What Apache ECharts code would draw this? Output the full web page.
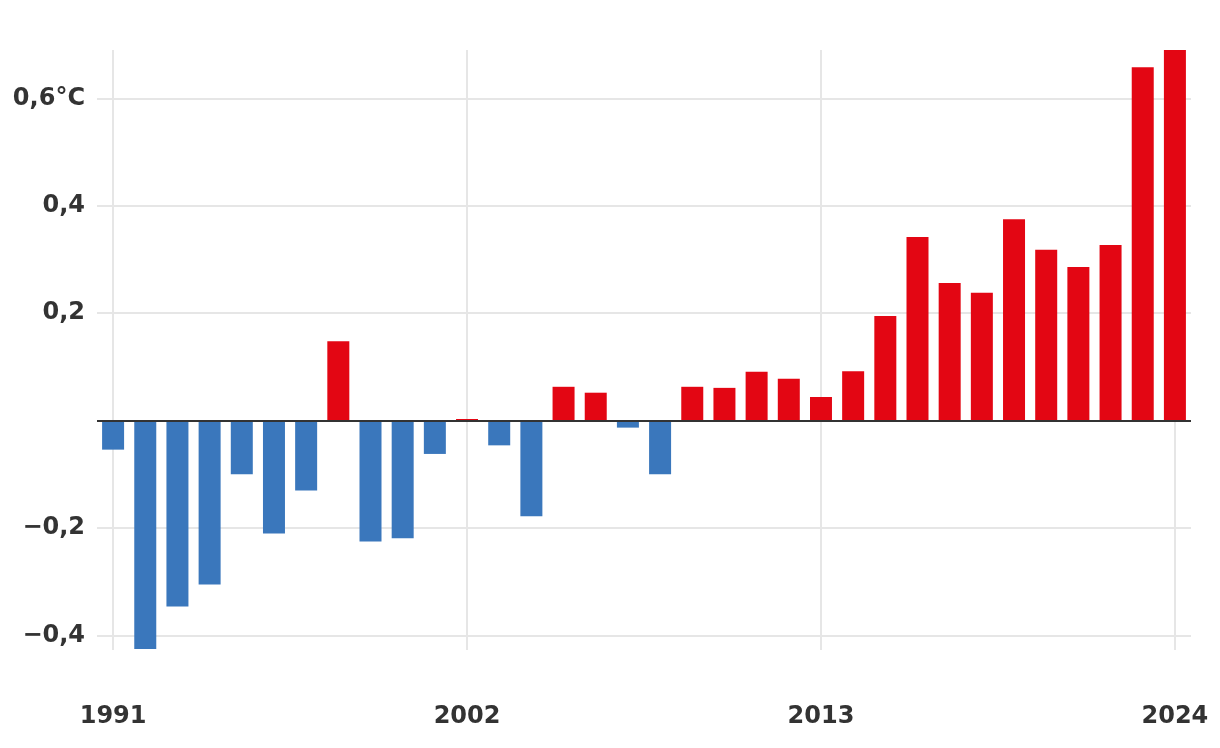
<!DOCTYPE html>
<html>
<head>
<meta charset="utf-8">
<script src="https://cdn.jsdelivr.net/npm/echarts@6/dist/echarts.min.js"></script>
<style>
html,body{margin:0;padding:0;background:#fff;}
#chart{width:1220px;height:748px;}
</style>
</head>
<body>
<div id="chart"></div>
<script>
const years = [1991,1992,1993,1994,1995,1996,1997,1998,1999,2000,2001,2002,2003,2004,2005,2006,2007,2008,2009,2010,2011,2012,2013,2014,2015,2016,2017,2018,2019,2020,2021,2022,2023,2024];
const anomalies = [-0.054,-0.425,-0.346,-0.305,-0.100,-0.210,-0.130,0.148,-0.225,-0.219,-0.062,0.003,-0.046,-0.178,0.063,0.052,-0.013,-0.100,0.063,0.061,0.091,0.078,0.044,0.092,0.195,0.342,0.256,0.238,0.375,0.318,0.286,0.327,0.658,0.690];
const xTickYears = [1991,2002,2013,2024];
const yTickValues = [-0.4,-0.2,0.2,0.4,0.6];
const yTickLabels = ['\u22120,4','\u22120,2','0,2','0,4','0,6\u00b0C'];

const BLUE = '#3a77bc';
const RED = '#e30613';
const GRID = '#e6e6e6';
const TEXT = '#333333';
const FONT = '"DejaVu Sans", Verdana, sans-serif';

const chart = echarts.init(document.getElementById('chart'), null, {renderer:'canvas'});
chart.setOption({
  animation: false,
  grid: {left: 97, right: 29, top: 50, bottom: 98, containLabel: false},
  xAxis: {
    type: 'value',
    min: 1990.5,
    max: 2024.5,
    axisLine: {show: false, onZero: false},
    axisTick: {show: false, customValues: xTickYears},
    splitLine: {show: true, lineStyle: {color: GRID, width: 2}},
    axisLabel: {
      customValues: xTickYears,
      color: TEXT, fontFamily: FONT, fontWeight: 'bold', fontSize: 24,
      margin: 55,
      formatter: v => String(v)
    }
  },
  yAxis: {
    type: 'value',
    min: -0.427,
    max: 0.69,
    axisLine: {show: false},
    axisTick: {show: false, customValues: [-0.4,-0.2,0,0.2,0.4,0.6]},
    splitLine: {show: true, lineStyle: {color: GRID, width: 2}},
    axisLabel: {
      customValues: yTickValues,
      color: TEXT, fontFamily: FONT, fontWeight: 'bold', fontSize: 24,
      margin: 12,
      formatter: v => {
        const i = yTickValues.findIndex(t => Math.abs(t - v) < 1e-6);
        return i >= 0 ? yTickLabels[i] : '';
      }
    }
  },
  series: [{
    type: 'bar',
    barWidth: 22,
    data: years.map((y, i) => [y, anomalies[i]]),
    itemStyle: {color: p => (p.value[1] < 0 ? BLUE : RED)},
    markLine: {
      silent: true,
      symbol: 'none',
      label: {show: false},
      lineStyle: {color: TEXT, width: 2, type: 'solid'},
      data: [{yAxis: 0}],
      z: 10
    }
  }]
});
</script>
</body>
</html>
